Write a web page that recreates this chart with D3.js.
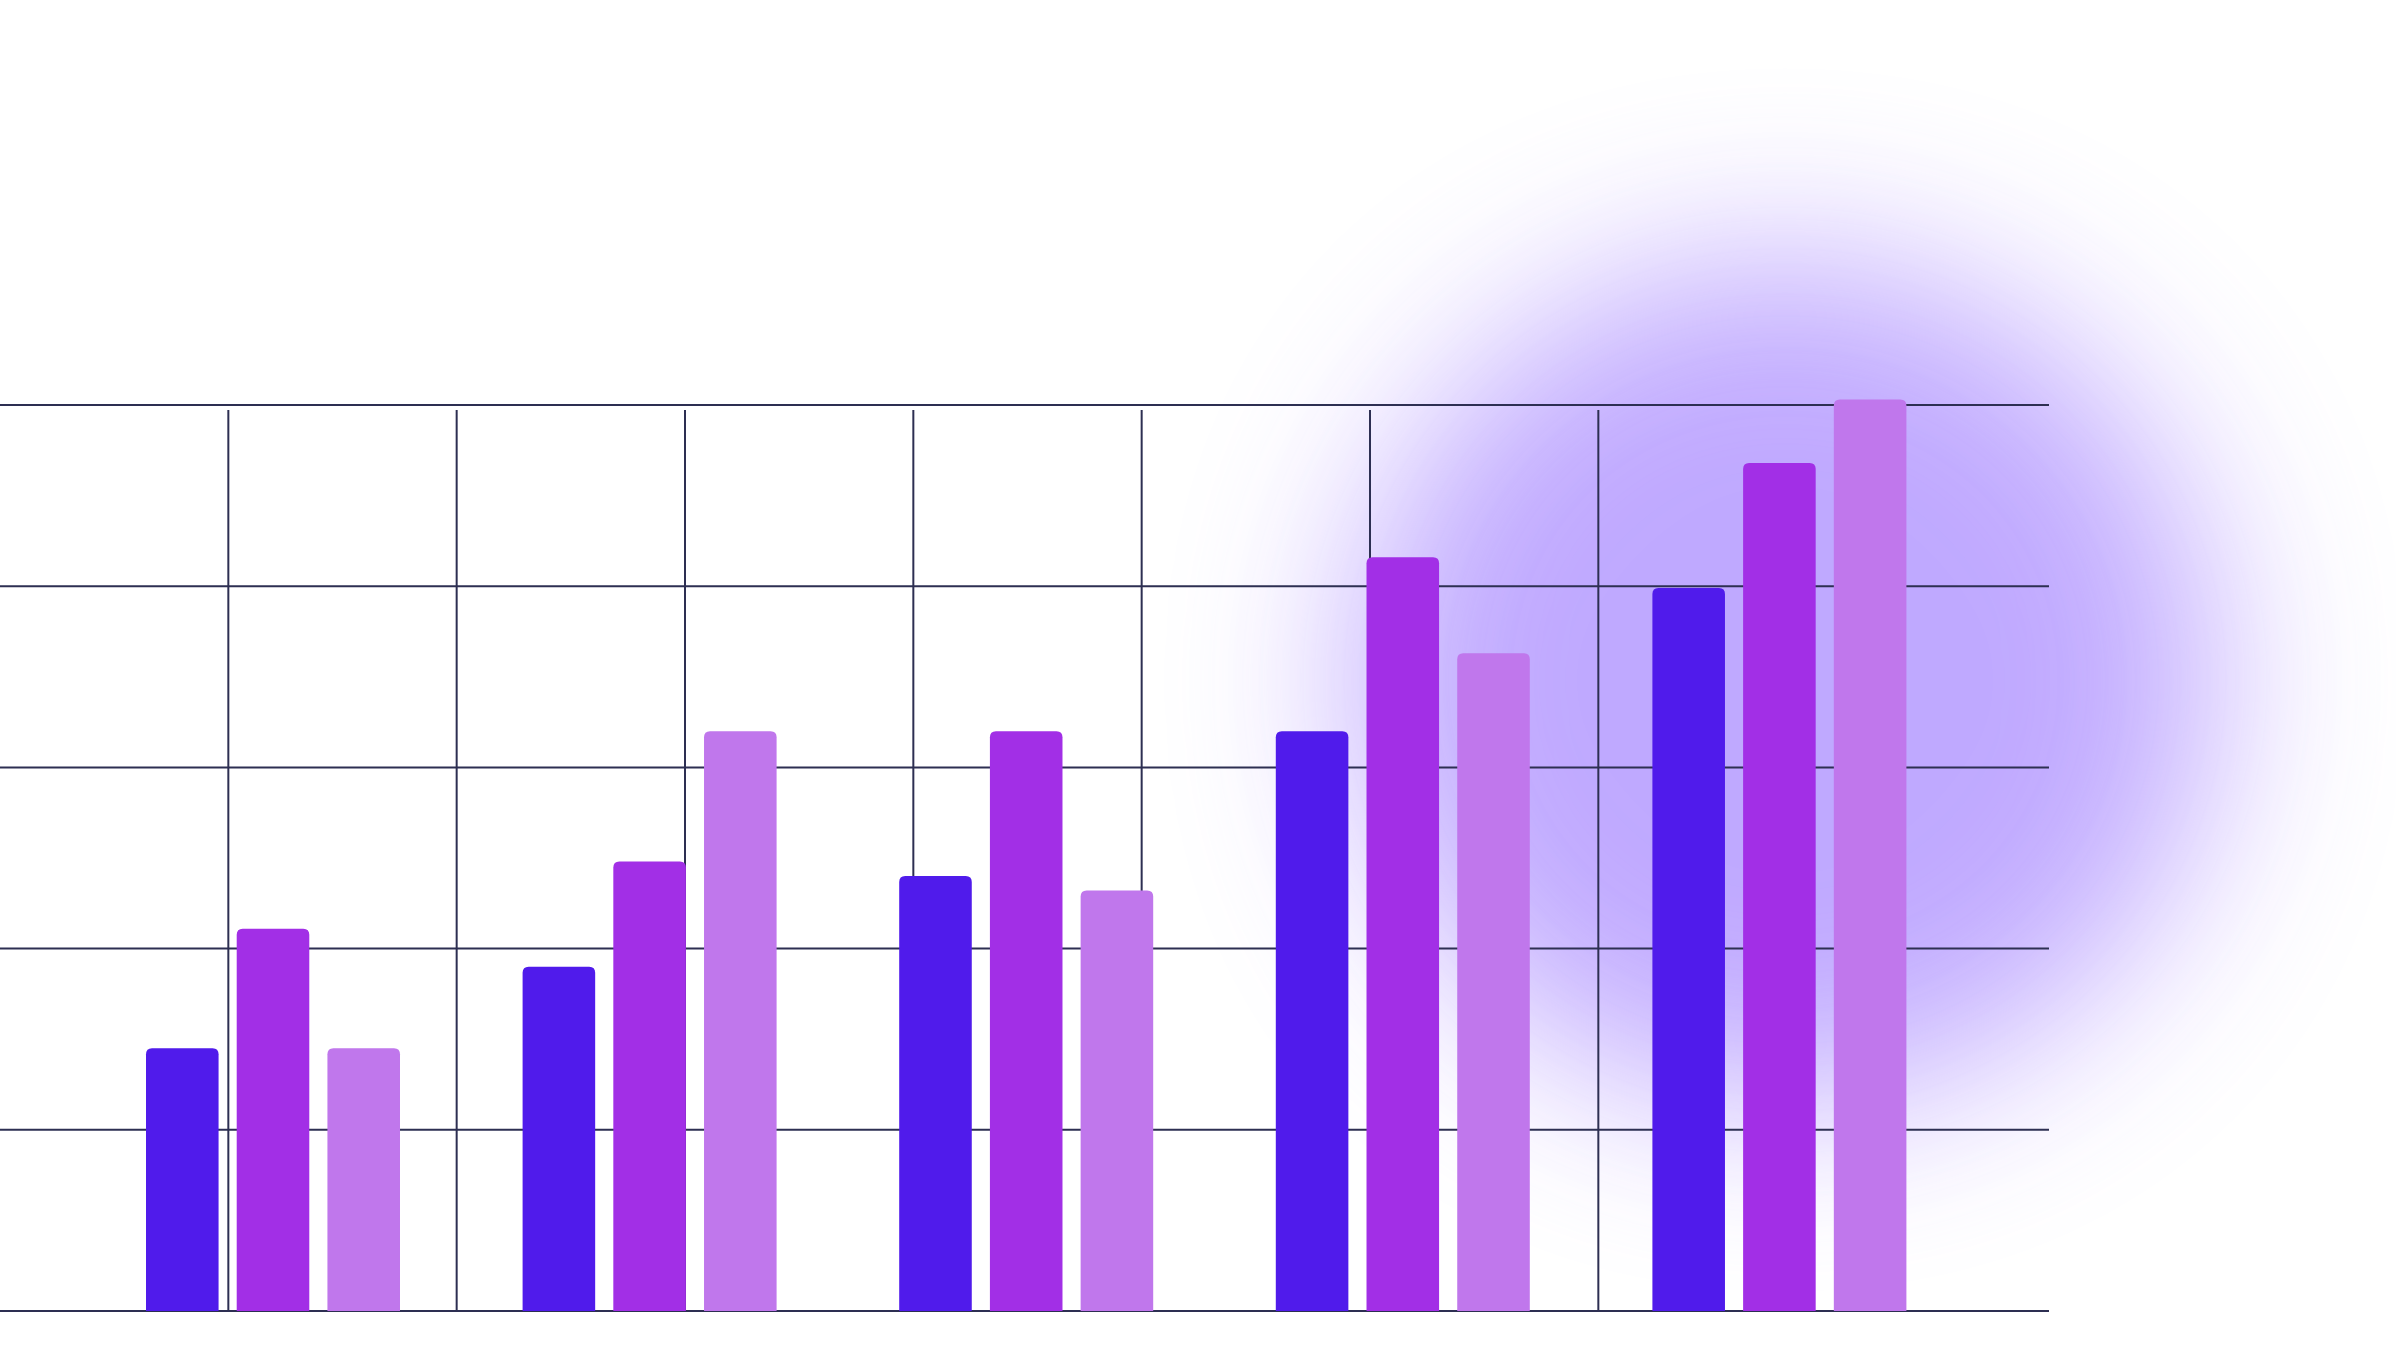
<!DOCTYPE html>
<html><head><meta charset="utf-8">
<script src="https://cdn.jsdelivr.net/npm/d3@7"></script>
<style>html,body{margin:0;padding:0;background:#fff;overflow:hidden}</style>
</head><body>
<svg id="c" width="2396" height="1371"></svg>
<script>
const groups = ["G1","G2","G3","G4","G5"];
const seriesNames = ["A","B","C"];
const seriesA = [1.45, 1.90, 2.40, 3.20, 3.99];
const seriesB = [2.11, 2.48, 3.20, 4.16, 4.68];
const seriesC = [1.45, 3.20, 2.32, 3.63, 5.03];
const colors = ["#501beb", "#a22fe6", "#c077ec"];
const yTicks = [0,1,2,3,4,5];
const xGridTicks = [1,2,3,4,5,6,7];

(function(){
const svg = d3.select("#c");
const defs = svg.append("defs");
const f = defs.append("filter").attr("id","blur").attr("x","-50%").attr("y","-50%").attr("width","200%").attr("height","200%");
f.append("feGaussianBlur").attr("stdDeviation",90);
svg.append("ellipse").attr("cx",1785).attr("cy",680).attr("rx",430).attr("ry",420)
  .attr("fill","#b9a0ff").attr("opacity",0.9).attr("filter","url(#blur)");

const L=0, R=2049, T=405, B=1311;
const y = d3.scaleLinear().domain([0,5]).range([B, T]);
const xg = d3.scaleLinear().domain([0,9]).range([0, 2055]);
const x0 = d3.scaleBand().domain(groups).range([84, 1967]);
const x1 = d3.scaleBand().domain(seriesNames).range([62, 316]).paddingInner(0.2);
const line = "#2d2f52";

svg.append("g").selectAll("line").data(yTicks).join("line")
  .attr("x1",L).attr("x2",R).attr("y1",d=>y(d)).attr("y2",d=>y(d))
  .attr("stroke",line).attr("stroke-width",2);
svg.append("g").selectAll("line").data(xGridTicks).join("line")
  .attr("x1",d=>xg(d)).attr("x2",d=>xg(d)).attr("y1",T+5).attr("y2",B)
  .attr("stroke",line).attr("stroke-width",2);

const all = [seriesA, seriesB, seriesC];
const data = [];
groups.forEach((g,i)=>seriesNames.forEach((s,j)=>data.push({g,s,v:all[j][i],c:colors[j]})));
function rectTop(x,yy,w,h,r){
  return `M${x},${yy+h}V${yy+r}Q${x},${yy} ${x+r},${yy}H${x+w-r}Q${x+w},${yy} ${x+w},${yy+r}V${yy+h}Z`;
}
svg.append("g").selectAll("path").data(data).join("path")
  .attr("d",d=>rectTop(x0(d.g)+x1(d.s), y(d.v), x1.bandwidth(), B-y(d.v), 6))
  .attr("fill",d=>d.c);
})();
</script>
</body></html>
